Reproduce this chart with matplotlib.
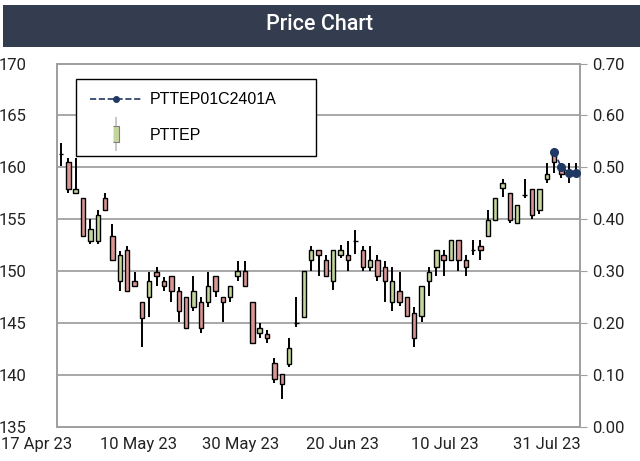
import numpy as np
import matplotlib.pyplot as plt
from matplotlib.lines import Line2D
from matplotlib.patches import Rectangle
from matplotlib.legend_handler import HandlerTuple
from matplotlib.transforms import blended_transform_factory

# daily OHLC of PTTEP, one entry per trading day
opens = [161.3, 160.5, 157.5, 157.0, 152.9, 152.9, 157.0, 153.4, 149.05, 152.0,
         149.05, 147.0, 147.5, 149.95, 149.05, 149.5, 148.1, 147.5, 146.5, 147.0,
         147.0, 149.5, 147.5, 147.5, 149.5, 150.0, 147.0, 144.0, 143.9, 141.1,
         140.1, 141.0, 145.0, 145.55, 151.1, 152.0, 151.1, 149.05, 151.5, 151.5,
         152.9, 152.0, 150.4, 151.1, 150.4, 147.0, 148.1, 147.5, 146.0, 145.65,
         149.05, 150.4, 151.5, 151.1, 153.0, 151.1, 152.0, 152.4, 153.4, 154.95,
         158.0, 157.5, 154.6, 157.3, 157.9, 155.9, 158.9, 161.3, 159.9, 159.6,
         159.6]
highs = [162.3, 160.9, 160.9, 157.0, 155.0, 155.9, 157.5, 154.5, 151.9, 152.4,
         149.9, 147.0, 149.9, 150.4, 149.4, 149.5, 148.5, 147.5, 149.5, 147.5,
         149.9, 149.5, 147.5, 148.6, 151.0, 151.0, 147.0, 145.0, 144.3, 141.6,
         140.1, 143.5, 147.5, 150.0, 152.4, 152.0, 151.5, 152.0, 152.5, 152.9,
         154.0, 152.4, 152.4, 151.5, 150.95, 150.4, 149.9, 147.5, 146.5, 148.6,
         150.4, 152.0, 152.0, 153.0, 153.0, 151.5, 153.0, 153.0, 155.9, 157.0,
         158.85, 157.5, 156.4, 158.85, 157.9, 157.9, 160.45, 161.9, 160.45, 160.45,
         160.45]
lows = [160.1, 157.5, 157.5, 153.4, 152.6, 152.6, 155.9, 151.1, 148.1, 148.1,
        148.6, 142.7, 145.6, 148.6, 148.1, 147.0, 145.1, 144.5, 146.1, 144.0,
        146.5, 147.5, 145.1, 147.0, 149.05, 148.6, 143.1, 143.5, 143.1, 139.2,
        137.7, 140.7, 144.6, 145.55, 150.0, 149.5, 149.5, 148.2, 151.3, 150.0,
        151.6, 150.0, 150.0, 149.05, 147.0, 146.1, 146.65, 145.65, 142.7, 145.1,
        147.6, 149.5, 149.5, 151.1, 150.0, 149.5, 151.5, 151.1, 153.4, 154.95,
        157.1, 154.6, 154.6, 157.0, 155.0, 155.5, 158.5, 159.5, 159.0, 158.5,
        159.1]
closes = [161.3, 157.9, 157.95, 153.4, 154.1, 155.4, 155.9, 151.1, 151.5, 148.1,
          148.6, 145.5, 149.05, 149.5, 148.6, 148.1, 146.1, 144.5, 148.1, 144.5,
          148.6, 148.1, 147.0, 148.6, 150.0, 148.6, 143.1, 144.5, 143.5, 139.6,
          139.1, 142.6, 145.0, 150.0, 152.0, 151.5, 149.5, 152.0, 152.0, 151.1,
          152.9, 150.4, 151.1, 149.5, 149.05, 149.05, 147.0, 145.65, 143.5, 148.6,
          149.9, 152.0, 151.1, 153.0, 151.1, 150.4, 152.0, 152.0, 154.95, 157.0,
          158.5, 154.95, 156.4, 157.3, 155.4, 157.9, 159.4, 160.5, 159.4, 159.6,
          159.6]

# derivative warrant, only traded in the last days
dw = [np.nan] * 67 + [0.53, 0.50, 0.49, 0.49]

date_labels = ['17 Apr 23', '10 May 23', '30 May 23', '20 Jun 23', '10 Jul 23', '31 Jul 23']

up_color = '#c3d69b'
down_color = '#d99694'
grid_color = '#a0a0a0'
dw_color = '#1f3864'

fig = plt.figure(figsize=(6.4, 4.61), dpi=100)
fig.patches.append(Rectangle((0.005, 0.898), 0.995, 0.091, transform=fig.transFigure,
                             facecolor='#343c4f', edgecolor='none', zorder=0))
fig.text(0.5, 0.947, 'Price Chart', color='white', ha='center', va='center',
         fontsize=15.5, family='Roboto', fontweight='medium')

ax = fig.add_axes([0.0895, 0.0746, 0.8165, 0.7874])
x = np.arange(len(opens))
o = np.array(opens)
c = np.array(closes)
colors = [up_color if cc >= oo else down_color for oo, cc in zip(o, c)]

ax.vlines(x, lows, highs, color='black', lw=1.4, zorder=2)
ax.bar(x, np.abs(c - o), bottom=np.minimum(o, c), width=0.6, color=colors,
       edgecolor='black', linewidth=1.0, zorder=3)

ax.set_xlim(-0.5, len(opens) - 0.5)
ax.set_ylim(135, 170)
ax.set_yticks(np.arange(135, 171, 5))
ax.grid(axis='y', color=grid_color, lw=1.3, zorder=0)
ax.set_axisbelow(True)
ax.tick_params(axis='y', length=0, pad=22, labelsize=12, labelcolor='#222222')
ax.set_xticks([])
for s in ax.spines.values():
    s.set_color(grid_color)
    s.set_linewidth(1.3)

# date labels every 14 trading days
trans = blended_transform_factory(ax.transData, ax.transAxes)
for i, lab in enumerate(date_labels):
    ax.text(-3.3 + 13.86 * i, -0.03, lab, transform=trans, ha='center', va='top',
            fontsize=12, family='Roboto', color='#222222', clip_on=False)

ax2 = ax.twinx()
ax2.set_ylim(0, 0.7)
ax2.set_yticks(np.arange(0, 0.71, 0.1))
ax2.set_yticklabels(['%.2f' % v for v in np.arange(0, 0.71, 0.1)])
ax2.tick_params(axis='y', length=5, color=grid_color, pad=4, labelsize=12, labelcolor='#222222')
for s in ax2.spines.values():
    s.set_color(grid_color)
    s.set_linewidth(1.3)
ax2.plot(x, dw, color=dw_color, ls='--', lw=1.2, marker='o', ms=5.5, zorder=5)

for a in (ax, ax2):
    for lab in a.get_yticklabels():
        lab.set_family('Roboto')

h_dw = Line2D([], [], color=dw_color, ls='--', lw=1.2, marker='o', ms=4)
h_wick = Line2D([], [], color='#bfbfbf', ls='none', marker='|', ms=24, mew=1.2)
h_body = Line2D([], [], ls='none', marker=[(-0.35, -1), (0.35, -1), (0.35, 1), (-0.35, 1)],
                ms=12, mfc=up_color, mec='#7f7f7f', mew=0.8)
leg = fig.legend([h_dw, (h_wick, h_body)], ['PTTEP01C2401A', 'PTTEP'],
                 handler_map={tuple: HandlerTuple(ndivide=1)},
                 loc='upper left', bbox_to_anchor=(0.119, 0.829, 0.374, 0.0), mode='expand',
                 frameon=True, fancybox=False, framealpha=1, edgecolor='black',
                 prop={'family': 'Liberation Sans', 'size': 11.5},
                 handlelength=3.25, handletextpad=0.5, labelspacing=1.26, borderpad=0.85,
                 borderaxespad=0)
leg.get_frame().set_linewidth(1.0)

fig.savefig('out.png', dpi=100)
